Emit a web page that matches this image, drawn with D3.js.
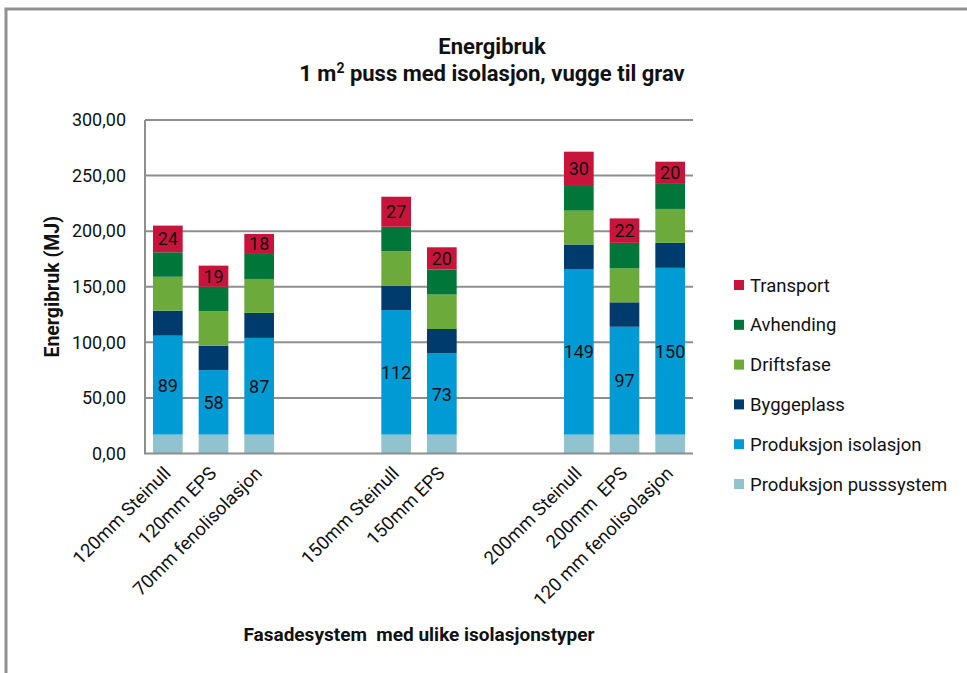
<!DOCTYPE html>
<html>
<head>
<meta charset="utf-8">
<script src="https://cdn.jsdelivr.net/npm/d3@7"></script>
<style>
  body { margin: 0; background: #fff; }
  svg text { font-family: Roboto, "Noto Sans", sans-serif; fill: #111; }
</style>
</head>
<body>
<div id="chart"></div>
<script>
// Kategorier (tomme plasser skiller gruppene)
const categories = ["120mm Steinull", "120mm EPS", "70mm fenolisolasjon", "", "",
    "150mm Steinull", "150mm EPS", "", "",
    "200mm Steinull", "200mm  EPS", "120 mm fenolisolasjon"];

// Verdier per serie (MJ), null = tom plass
const pusssystem = [17, 17, 17, null, null, 17, 17, null, null, 17, 17, 17];
const isolasjon  = [89, 58, 87, null, null, 112, 73, null, null, 149, 97, 150];
const byggeplass = [22.5, 22, 22.5, null, null, 22, 22, null, null, 22, 22, 22.5];
const driftsfase = [30.5, 31, 30.5, null, null, 31, 31, null, null, 30.5, 30.5, 30.5];
const avhending  = [22, 22, 22.5, null, null, 22, 22.5, null, null, 23, 23, 22.5];
const transport  = [24, 19, 18, null, null, 27, 20, null, null, 30, 22, 20];

const yTicks = [0, 50, 100, 150, 200, 250, 300];

const series = [
    { key: "pusssystem", name: "Produksjon pusssystem", values: pusssystem, color: "#90c3cd", label: false },
    { key: "isolasjon", name: "Produksjon isolasjon", values: isolasjon, color: "#009ad4", label: true },
    { key: "byggeplass", name: "Byggeplass", values: byggeplass, color: "#003b6d", label: false },
    { key: "driftsfase", name: "Driftsfase", values: driftsfase, color: "#6cab3b", label: false },
    { key: "avhending", name: "Avhending", values: avhending, color: "#007638", label: false },
    { key: "transport", name: "Transport", values: transport, color: "#c8143a", label: true }
];

const width = 967, height = 673;
const plot = { left: 145, right: 693, top: 120, bottom: 453.5 };

const svg = d3.select("#chart").append("svg")
    .attr("width", width)
    .attr("height", height);

// Ramme
svg.append("path")
    .attr("d", `M6,673 V9 H967`)
    .attr("fill", "none")
    .attr("stroke", "#919191")
    .attr("stroke-width", 3);

// Tittel
const title = svg.append("text")
    .attr("text-anchor", "middle")
    .style("font-weight", "bold")
    .style("font-size", "22px");
title.append("tspan").attr("x", 492).attr("y", 54).text("Energibruk");
const line2 = title.append("tspan").attr("x", 492).attr("y", 81);
line2.append("tspan").text("1 m");
line2.append("tspan").attr("dy", -8).style("font-size", "14px").text("2");
line2.append("tspan").attr("dy", 8).text(" puss med isolasjon, vugge til grav");

// Skalaer
const idx = d3.range(categories.length);
const x = d3.scaleBand()
    .domain(idx)
    .range([plot.left, plot.right])
    .paddingInner(0.35)
    .paddingOuter(0.175);

const y = d3.scaleLinear()
    .domain([0, 300])
    .range([plot.bottom, plot.top]);

// Rutenett
svg.append("g")
    .selectAll("line")
    .data(yTicks.filter(d => d > 0))
    .enter().append("line")
    .attr("x1", plot.left)
    .attr("x2", plot.right)
    .attr("y1", d => y(d))
    .attr("y2", d => y(d))
    .attr("stroke", "#8e8e8e")
    .attr("stroke-width", 2);

// Y-akse
const fmt = d => d3.format(".2f")(d).replace(".", ",");
const yAxis = svg.append("g")
    .attr("transform", `translate(${plot.left},0)`)
    .call(d3.axisLeft(y).tickValues(yTicks).tickFormat(fmt).tickSize(0).tickPadding(19));
yAxis.select(".domain").remove();
yAxis.selectAll("text")
    .style("font-size", "18px")
    .style("font-family", "Roboto, sans-serif")
    .attr("fill", "#222");

// Stablede søyler
const stack = d3.stack()
    .keys(series.map(s => s.key))
    .value((d, key) => d[key] || 0);

const rows = idx.map(i => {
    const r = { i: i };
    series.forEach(s => { r[s.key] = s.values[i]; });
    return r;
});
const layers = stack(rows);

layers.forEach((layer, li) => {
    const s = series[li];
    const g = svg.append("g");
    g.selectAll("rect")
        .data(layer.filter(d => d.data[s.key] != null))
        .enter().append("rect")
        .attr("x", d => x(d.data.i))
        .attr("width", x.bandwidth())
        .attr("y", d => y(d[1]))
        .attr("height", d => y(d[0]) - y(d[1]))
        .attr("fill", s.color);

    if (s.label) {
        g.selectAll("text")
            .data(layer.filter(d => d.data[s.key] != null))
            .enter().append("text")
            .attr("x", d => x(d.data.i) + x.bandwidth() / 2)
            .attr("y", d => y((d[0] + d[1]) / 2))
            .attr("dy", "0.36em")
            .attr("text-anchor", "middle")
            .style("font-size", "18px")
            .text(d => Math.round(d.data[s.key]));
    }
});

// Akselinjer
svg.append("path")
    .attr("d", `M${plot.left},${plot.top} V${plot.bottom} H${plot.right}`)
    .attr("fill", "none")
    .attr("stroke", "#8e8e8e")
    .attr("stroke-width", 2);

// X-etiketter
svg.append("g")
    .selectAll("text")
    .data(idx.filter(i => categories[i] !== ""))
    .enter().append("text")
    .attr("transform", i => `translate(${x(i) + x.bandwidth() / 2 + 4},${plot.bottom + 21}) rotate(-45)`)
    .attr("text-anchor", "end")
    .attr("xml:space", "preserve")
    .style("white-space", "pre")
    .style("font-size", "18.5px")
    .text(i => categories[i]);

// Aksetitler
svg.append("text")
    .attr("x", (plot.left + plot.right) / 2)
    .attr("y", 641)
    .attr("text-anchor", "middle")
    .attr("xml:space", "preserve")
    .style("white-space", "pre")
    .style("font-weight", "bold")
    .style("font-size", "19px")
    .text("Fasadesystem  med ulike isolasjonstyper");

svg.append("text")
    .attr("transform", `translate(59,${(plot.top + plot.bottom) / 2}) rotate(-90)`)
    .attr("text-anchor", "middle")
    .style("font-weight", "bold")
    .style("font-size", "19.5px")
    .text("Energibruk (MJ)");

// Legende
const legend = svg.append("g")
    .selectAll("g")
    .data(series.slice().reverse())
    .enter().append("g")
    .attr("transform", (d, i) => `translate(734,${285 + i * 39.8})`);

legend.append("rect")
    .attr("y", -5)
    .attr("width", 10)
    .attr("height", 10)
    .attr("fill", d => d.color);

legend.append("text")
    .attr("x", 16)
    .attr("dy", "0.36em")
    .style("font-size", "18.5px")
    .text(d => d.name);
</script>
</body>
</html>
